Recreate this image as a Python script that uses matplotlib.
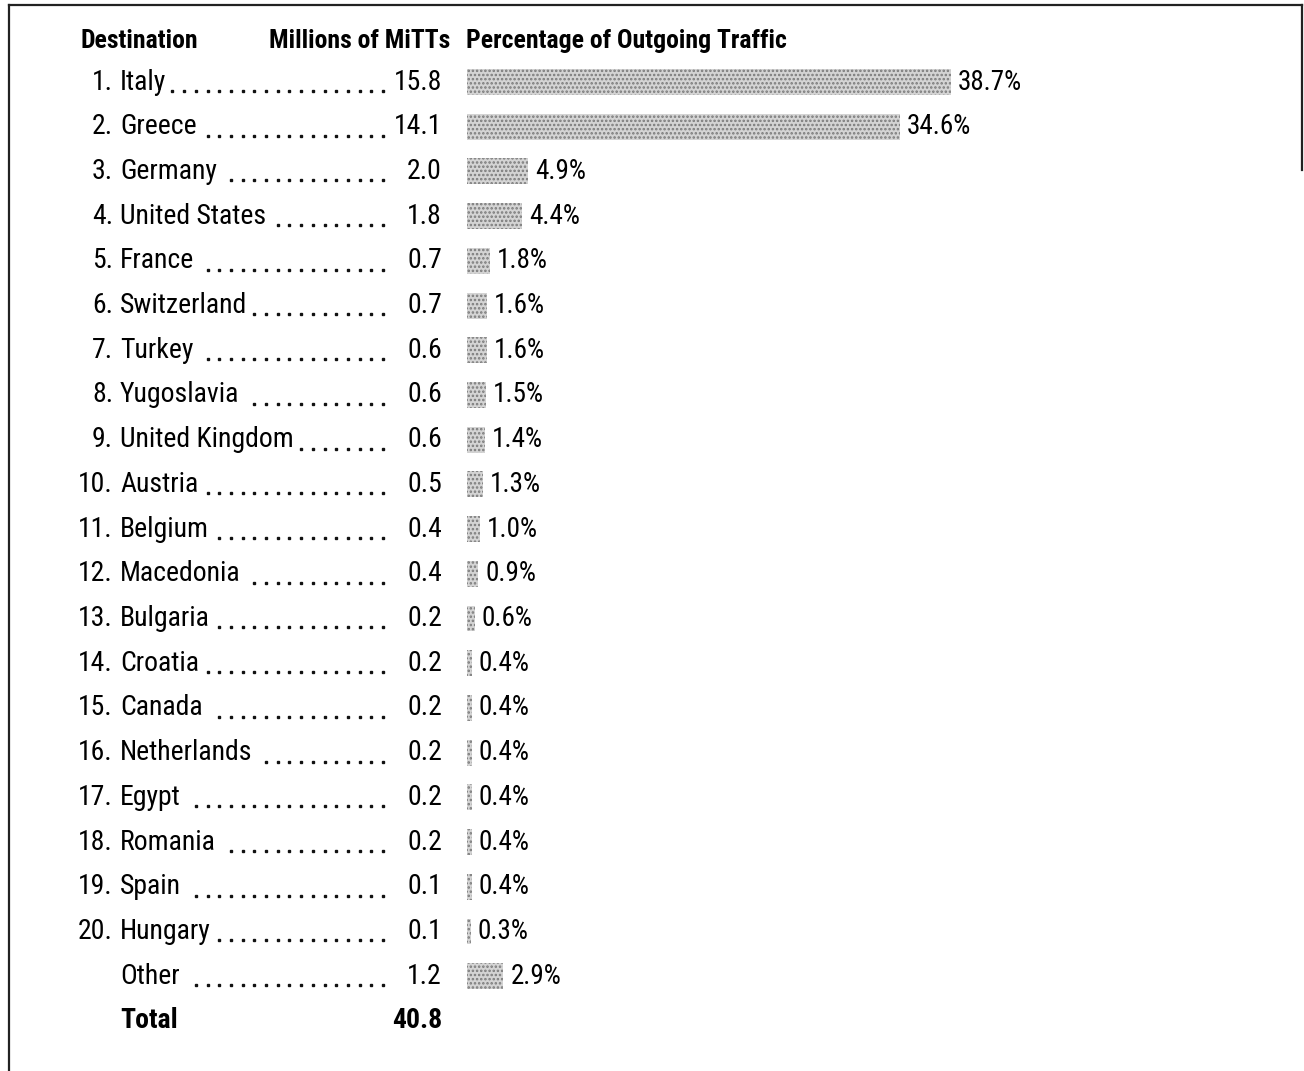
import numpy as np
import matplotlib
matplotlib.use("Agg")
import matplotlib.pyplot as plt

plt.rcParams['font.family'] = ['Roboto Condensed', 'Archivo Narrow', 'DejaVu Sans']
plt.rcParams['hatch.linewidth'] = 1.2

ranks = ["1.", "2.", "3.", "4.", "5.", "6.", "7.", "8.", "9.", "10.",
         "11.", "12.", "13.", "14.", "15.", "16.", "17.", "18.", "19.", "20.", ""]
destinations = ["Italy", "Greece", "Germany", "United States", "France",
                "Switzerland", "Turkey", "Yugoslavia", "United Kingdom", "Austria",
                "Belgium", "Macedonia", "Bulgaria", "Croatia", "Canada",
                "Netherlands", "Egypt", "Romania", "Spain", "Hungary", "Other"]
mitts = ["15.8", "14.1", "2.0", "1.8", "0.7", "0.7", "0.6", "0.6", "0.6", "0.5",
         "0.4", "0.4", "0.2", "0.2", "0.2", "0.2", "0.2", "0.2", "0.1", "0.1", "1.2"]
share = [38.7, 34.6, 4.9, 4.4, 1.8, 1.6, 1.6, 1.5, 1.4, 1.3,
         1.0, 0.9, 0.6, 0.4, 0.4, 0.4, 0.4, 0.4, 0.4, 0.3, 2.9]
total_label = "Total"
total_value = "40.8"
headers = ["Destination", "Millions of MiTTs", "Percentage of Outgoing Traffic"]

bold_family = ['Roboto Condensed', 'Fira Sans Condensed', 'DejaVu Sans']

W, H = 1304, 1071
fig = plt.figure(figsize=(W / 100, H / 100), dpi=100)

# text layer in pixel units, rows on the y axis
row_px0, row_step = 82.0, 44.71
ax = fig.add_axes([0, 0, 1, 1])
ax.set_xlim(0, W)
ax.set_ylim((H - row_px0) / row_step, -row_px0 / row_step)
ax.axis('off')

# bar layer: x in percent, same rows
px_per_pct = 12.5
bar_x0 = 467
axb = fig.add_axes([0, 0, 1, 1], sharey=ax)
axb.set_xlim(-bar_x0 / px_per_pct, (W - bar_x0) / px_per_pct)
axb.axis('off')
axb.patch.set_visible(False)

rows = np.arange(len(destinations))
fs = 20

def py(p):
    return (p - row_px0) / row_step

# frame (left, top, partial right as in the scan)
ax.plot([9, 9], [py(H), py(5)], color='#222222', lw=1.6)
ax.plot([9, 1302], [py(5), py(5)], color='#222222', lw=1.6)
ax.plot([1302, 1302], [py(5), py(170)], color='#222222', lw=1.6)

# headers
hy = py(41)
ax.text(81, hy, headers[0], fontsize=18.5, fontweight='bold', family=bold_family, va='center', ha='left')
ax.text(450, hy, headers[1], fontsize=18.5, fontweight='bold', family=bold_family, va='center', ha='right')
ax.text(466, hy, headers[2], fontsize=18.5, fontweight='bold', family=bold_family, va='center', ha='left')

fig.canvas.draw()
renderer = fig.canvas.get_renderer()

dot_end = 383
dot_gap = 11.7
for r, rank, name, val in zip(rows, ranks, destinations, mitts):
    ax.text(113, r, rank, fontsize=fs, va='center', ha='right')
    t = ax.text(120, r, name, fontsize=fs, va='center', ha='left')
    ax.text(442, r, val, fontsize=fs, va='center', ha='right')
    name_end = t.get_window_extent(renderer).x1
    k = int(np.floor((dot_end - name_end - 6) / dot_gap))
    xs = dot_end - dot_gap * np.arange(k + 1)
    ax.plot(xs, [r + 0.2] * len(xs), ls='', marker='s', ms=1.8, color='#111111')

# total row
rt = len(destinations)
ax.text(120, rt, total_label, fontsize=fs, fontweight='bold', family=bold_family, va='center', ha='left')
ax.text(442, rt, total_value, fontsize=fs, fontweight='bold', family=bold_family, va='center', ha='right')

# bars
axb.barh(rows, share, height=0.58, left=0, color='#d4d4d4', edgecolor='#7a7a7a',
         hatch='....', linewidth=0)
for r, p in zip(rows, share):
    axb.text(p + 7 / px_per_pct, r, "%.1f%%" % p, fontsize=fs - 0.5, va='center', ha='left')

fig.savefig("out.png", dpi=100, facecolor='white')
